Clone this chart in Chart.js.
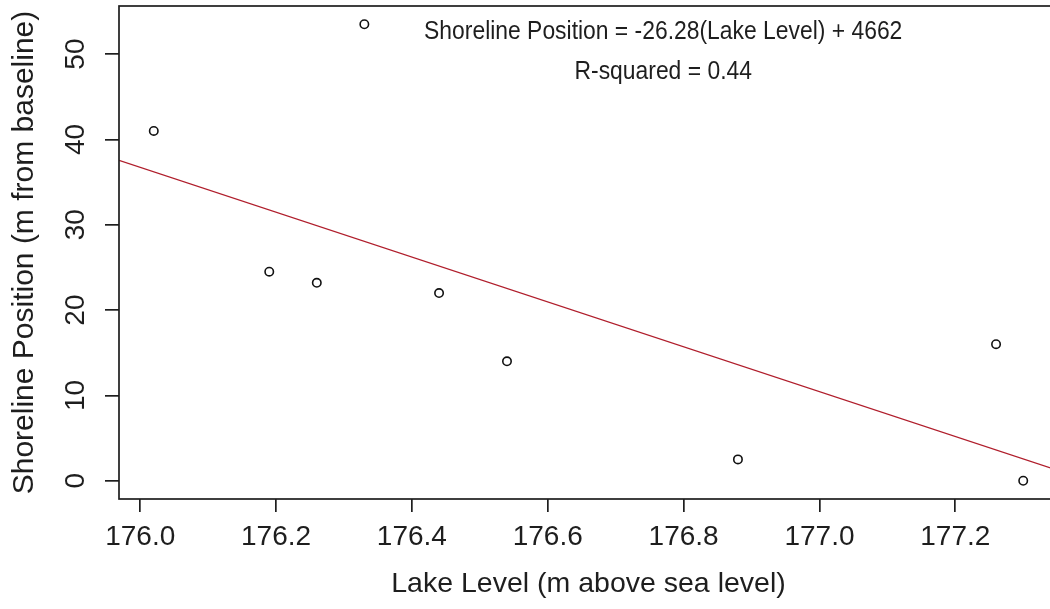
<!DOCTYPE html>
<html>
<head>
<meta charset="utf-8">
<script src="https://cdn.jsdelivr.net/npm/chart.js@4.4.1/dist/chart.umd.min.js"></script>
<style>
  body { margin: 0; background: #fff; overflow: hidden; }
  #wrap { width: 1050px; height: 609px; overflow: hidden; }
</style>
</head>
<body>
<div id="wrap"><canvas id="shoreChart" width="1070" height="609"></canvas></div>
<script>
// lake level (m above sea level) and shoreline position (m from baseline) per survey
var lakeLevel = [176.02, 176.19, 176.26, 176.33, 176.44, 176.54, 176.88, 177.26, 177.30];
var shorePos  = [41.0, 24.5, 23.2, 53.5, 22.0, 14.0, 2.5, 16.0, 0.0];

// least squares fit, as printed on the plot
var fitSlope = -26.28;
var fitIntercept = 4662;
var fitR2 = 0.44;

var xTicks = [176.0, 176.2, 176.4, 176.6, 176.8, 177.0, 177.2];
var yTicks = [0, 10, 20, 30, 40, 50];

var FONT = '"Liberation Sans", Arial, sans-serif';
var INK = '#1e1e1e';

// pad the data range by 4% each side, the way base R does
function padRange(vals) {
  var lo = Math.min.apply(null, vals), hi = Math.max.apply(null, vals);
  var d = (hi - lo) * 0.04;
  return [lo - d, hi + d];
}
var xr = padRange(lakeLevel);
var yr = padRange(shorePos);

var points = lakeLevel.map(function (x, i) { return { x: x, y: shorePos[i] }; });
var fitLine = xr.map(function (x) { return { x: x, y: fitSlope * x + fitIntercept }; });

// box, rotated y labels and the equation text
var rFrame = {
  id: 'rFrame',
  afterDraw: function (chart) {
    var ctx = chart.ctx, a = chart.chartArea;
    var xs = chart.scales.x, ys = chart.scales.y;
    ctx.save();
    ctx.strokeStyle = INK;
    ctx.lineWidth = 1.7;
    ctx.strokeRect(a.left, a.top, a.right - a.left, a.bottom - a.top);

    ctx.fillStyle = INK;
    ctx.font = '28px ' + FONT;
    ctx.textAlign = 'center';
    ctx.textBaseline = 'middle';
    yTicks.forEach(function (v) {
      ctx.save();
      ctx.translate(76, ys.getPixelForValue(v));
      ctx.rotate(-Math.PI / 2);
      ctx.fillText(String(v), 0, 0);
      ctx.restore();
    });

    // equation block, slightly condensed
    ctx.font = '26px ' + FONT;
    var cx = xs.getPixelForValue(176.77);
    var lines = [
      ['Shoreline Position = ' + fitSlope + '(Lake Level) + ' + fitIntercept, 52.6],
      ['R-squared = ' + fitR2.toFixed(2), 47.9]
    ];
    lines.forEach(function (ln) {
      ctx.save();
      ctx.translate(cx, ys.getPixelForValue(ln[1]));
      ctx.scale(0.88, 1);
      ctx.fillText(ln[0], 0, 0);
      ctx.restore();
    });
    ctx.restore();
  }
};

new Chart(document.getElementById('shoreChart'), {
  type: 'scatter',
  data: {
    datasets: [
      {
        label: 'surveys',
        data: points,
        pointRadius: 4.2,
        pointBorderWidth: 1.6,
        pointBackgroundColor: 'rgba(0,0,0,0)',
        pointBorderColor: '#111',
        showLine: false
      },
      {
        label: 'fit',
        data: fitLine,
        showLine: true,
        pointRadius: 0,
        borderColor: '#b01e2c',
        borderWidth: 1.3
      }
    ]
  },
  options: {
    responsive: false,
    animation: false,
    layout: { padding: { left: 0, top: 6, right: 12, bottom: 0 } },
    plugins: { legend: { display: false }, tooltip: { enabled: false } },
    scales: {
      x: {
        type: 'linear',
        min: xr[0],
        max: xr[1],
        afterBuildTicks: function (s) { s.ticks = xTicks.map(function (v) { return { value: v }; }); },
        afterFit: function (s) { s.height = 110; },
        border: { display: false },
        grid: { drawOnChartArea: false, drawTicks: true, tickLength: 13, color: INK, lineWidth: 1.7 },
        ticks: {
          color: INK,
          font: { family: FONT, size: 28 },
          padding: 8,
          maxRotation: 0,
          callback: function (v) { return v.toFixed(1); }
        },
        title: {
          display: true,
          text: 'Lake Level (m above sea level)',
          color: INK,
          font: { family: FONT, size: 28.5 },
          padding: { top: 0, bottom: 8 }
        }
      },
      y: {
        type: 'linear',
        min: yr[0],
        max: yr[1],
        afterBuildTicks: function (s) { s.ticks = yTicks.map(function (v) { return { value: v }; }); },
        afterFit: function (s) { s.width = 119; },
        border: { display: false },
        grid: { drawOnChartArea: false, drawTicks: true, tickLength: 14, color: INK, lineWidth: 1.7 },
        ticks: { display: false },
        title: {
          display: true,
          text: 'Shoreline Position (m from baseline)',
          color: INK,
          font: { family: FONT, size: 30 },
          padding: { top: 7, bottom: 0 }
        }
      }
    }
  },
  plugins: [rFrame]
});
</script>
</body>
</html>
